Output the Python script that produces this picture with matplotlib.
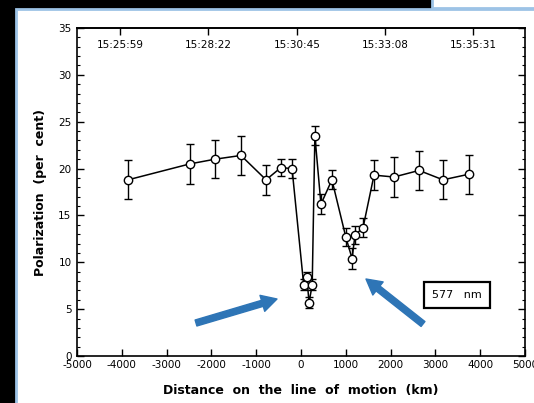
import matplotlib
matplotlib.use("Agg")
import matplotlib.pyplot as plt
from matplotlib.patches import Rectangle
from matplotlib.ticker import MultipleLocator, FixedLocator

# ---- data ----
distance_km = [-3860, -2480, -1920, -1340, -780, -450, -200,
               60, 130, 180, 250, 310, 445, 690,
               1000, 1140, 1205, 1385, 1630, 2075, 2635, 3170, 3750]
polarization = [18.8, 20.5, 21.0, 21.4, 18.8, 20.1, 20.0,
                7.6, 8.4, 5.7, 7.6, 23.5, 16.2, 18.8,
                12.7, 10.4, 12.9, 13.7, 19.3, 19.1, 19.8, 18.8, 19.4]
error = [2.1, 2.1, 2.0, 2.1, 1.6, 0.9, 1.0,
         0.6, 0.6, 0.6, 0.6, 1.0, 1.1, 1.0,
         1.0, 1.1, 1.0, 1.0, 1.6, 2.1, 2.1, 2.1, 2.1]
time_tick_km = [-4040, -2075, -90, 1875, 3840]
time_labels = ["15:25:59", "15:28:22", "15:30:45", "15:33:08", "15:35:31"]
wavelength_label = "577   nm"

W, H = 534, 403
fig = plt.figure(figsize=(W / 100, H / 100), dpi=100, facecolor="black")

# background panels
blue = "#9DC3E6"
fig.patches.append(Rectangle((16 / W, -0.01), 1 - 16 / W + 0.01, 1 - 9 / H + 0.01, transform=fig.transFigure,
                             facecolor="white", edgecolor=blue, linewidth=2, zorder=-10))
fig.patches.append(Rectangle((432 / W, 1 - 8 / H), 1 - 432 / W + 0.01, 8 / H + 0.01, transform=fig.transFigure,
                             facecolor="white", edgecolor=blue, linewidth=2, zorder=-10))

ax = fig.add_axes([77 / W, 1 - 356 / H, (525 - 77) / W, (356 - 28) / H])
ax.set_facecolor("white")

ax.errorbar(distance_km, polarization, yerr=error, fmt="-o", color="black",
            linewidth=1.1, elinewidth=1.0, capsize=2.8, capthick=1.0,
            markersize=6, markerfacecolor="white", markeredgecolor="black",
            markeredgewidth=1.0, zorder=3)

ax.set_xlim(-5000, 5000)
ax.set_ylim(0, 35)
ax.yaxis.set_major_locator(MultipleLocator(5))
ax.yaxis.set_minor_locator(MultipleLocator(1))
ax.tick_params(axis="both", which="major", direction="in", length=5, width=1,
               labelsize=7.5, colors="black")
ax.tick_params(axis="y", which="minor", direction="in", length=2.5, width=0.8,
               right=True)
ax.tick_params(axis="y", which="major", right=True, pad=4)
ax.tick_params(axis="x", top=False, pad=3)
for s in ax.spines.values():
    s.set_linewidth(1.2)

ax.set_xticks(range(-5000, 5001, 1000))
ax.set_xticklabels([str(v) for v in range(-5000, 5001, 1000)])

sec = ax.secondary_xaxis("top")
sec.xaxis.set_major_locator(FixedLocator(time_tick_km))
sec.set_xticklabels(time_labels)
sec.tick_params(axis="x", direction="in", length=5, width=1, labelsize=7.5, pad=-16)
sec.spines["top"].set_linewidth(1.2)

ax.set_xlabel("Distance  on  the  line  of  motion  (km)", fontsize=9,
              fontweight="bold", labelpad=10)
ax.set_ylabel("Polarization  (per  cent)", fontsize=9, fontweight="bold", labelpad=8)

# wavelength box
ax.text(3480, 6.5, wavelength_label, fontsize=8, ha="center", va="center",
        bbox=dict(boxstyle="square,pad=0.75", facecolor="white", edgecolor="black",
                  linewidth=1.6), zorder=4)

# blue arrows (figure coordinates)
arrow_col = "#2E75B6"
def fig_arrow(x0, y0, x1, y1):
    ax.annotate("", xy=(x1 / W, 1 - y1 / H), xycoords="figure fraction",
                xytext=(x0 / W, 1 - y0 / H), textcoords="figure fraction",
                arrowprops=dict(arrowstyle="simple,head_length=1.1,head_width=1.2,tail_width=0.45",
                                color=arrow_col, shrinkA=0, shrinkB=0),
                annotation_clip=False, zorder=5)

fig_arrow(196, 323, 277, 299)
fig_arrow(423, 324, 366, 279)

fig.savefig("out.png", dpi=100, facecolor=fig.get_facecolor())
